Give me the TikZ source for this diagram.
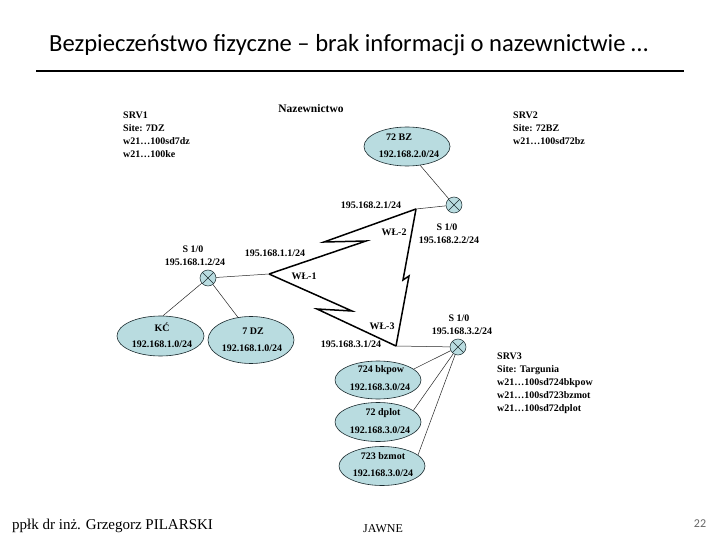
\documentclass[tikz,border=0pt]{standalone}
\usepackage{fontspec}
\setmainfont{Liberation Serif}
\newfontfamily\titlefont{Carlito}
\definecolor{lanfill}{HTML}{B9DCE0}
\definecolor{routerfill}{HTML}{B9DCE0}
\definecolor{edgedark}{HTML}{1A2A2E}
\tikzset{
  lan/.style={draw=edgedark,line width=0.6pt,fill=lanfill,ellipse,inner sep=0pt,minimum width=86pt,minimum height=39pt},
  router/.style={draw=edgedark,line width=0.5pt,fill=routerfill,circle,inner sep=0pt,minimum size=16pt,
    path picture={\draw[line width=0.5pt,edgedark] (path picture bounding box.north west)--(path picture bounding box.south east)
      (path picture bounding box.north east)--(path picture bounding box.south west);}},
  lbl/.style={inner sep=0pt,font=\fontsize{10}{12}\selectfont\bfseries},
  srvblock/.style={inner sep=0pt,anchor=north west,align=left,font=\fontsize{10}{12.8}\selectfont\bfseries},
  thinlink/.style={line width=0.5pt,black!85},
  wanlink/.style={line width=1.5pt,black,line join=miter,miter limit=10}
}
\usetikzlibrary{shapes.geometric}
\begin{document}
\begin{tikzpicture}[x=1pt,y=-1pt]
\useasboundingbox (0,0) rectangle (720,540);
\fill[white] (0,0) rectangle (720,540);
% title
\node[inner sep=0pt,anchor=west,font=\fontsize{24.6}{28}\selectfont\titlefont] (title) at (49,45) {Bezpieczeństwo fizyczne – brak informacji o nazewnictwie …};
\coordinate (ruleL) at (36,71);
\coordinate (ruleR) at (684,71);
\draw[line width=2.6pt] (ruleL) -- (ruleR);
% LANs
\node[lan] (bz) at (407,146.5) {};
\node[lan,minimum width=87pt,minimum height=40pt] (kc) at (160.5,336) {};
\node[lan,minimum height=47pt] (dz) at (251,340) {};
\node[lan,minimum height=38pt] (bkpow) at (378,380) {};
\node[lan,minimum height=39pt] (dplot) at (378,422) {};
\node[lan,minimum height=39pt] (bzmot) at (382,466) {};
% routers
\node[router] (r1) at (208,278) {};
\node[router] (r2) at (454,205) {};
\node[router] (r3) at (458,347) {};
% WAN vertices
\coordinate (w1) at (269,274);
\coordinate (w2) at (416,209);
\coordinate (w3) at (396,346);
\coordinate (z12a) at (366,241);
\coordinate (z12b) at (324,242);
\coordinate (z23a) at (403,280);
\coordinate (z23b) at (409,276);
\coordinate (z13a) at (352,311);
\coordinate (z13b) at (317,309);
\draw[wanlink] (w1) -- (z12a) -- (z12b) -- (w2);
\draw[wanlink] (w2) -- (z23a) -- (z23b) -- (w3);
\draw[wanlink] (w1) -- (z13a) -- (z13b) -- (w3);
% thin links
\draw[thinlink] (r1) -- (w1);
\draw[thinlink] (r2) -- (w2);
\draw[thinlink] (r3) -- (w3);
\draw[thinlink] (r2) -- (bz.-55);
\draw[thinlink] (r1) -- (kc.83);
\draw[thinlink] (r1) -- (dz.120);
\draw[thinlink] (r3) -- (bkpow.17);
\draw[thinlink] (r3) -- (dplot.18);
\draw[thinlink] (r3) -- (bzmot.17);
% labels
\node[lbl,font=\fontsize{11.5}{13}\selectfont\bfseries] (naz) at (311,108.5) {Nazewnictwo};
\node[srvblock] (srv1) at (123,112) {SRV1\\Site: 7DZ\\w21…100sd7dz\\w21…100ke};
\node[srvblock] (srv2) at (513,112) {SRV2\\Site: 72BZ\\w21…100sd72bz};
\node[srvblock] (srv3) at (497,353) {SRV3\\Site: Targunia\\w21…100sd724bkpow\\w21…100sd723bzmot\\w21…100sd72dplot};
\node[lbl] (t1) at (399,137) {72 BZ};
\node[lbl] (t2) at (409,154) {192.168.2.0/24};
\node[lbl] (t3) at (371,205) {195.168.2.1/24};
\node[lbl] (t4) at (394,232) {WŁ-2};
\node[lbl] (t5) at (447,227) {S 1/0};
\node[lbl] (t6) at (449,240) {195.168.2.2/24};
\node[lbl] (t7) at (193,249) {S 1/0};
\node[lbl] (t8) at (195,262) {195.168.1.2/24};
\node[lbl] (t9) at (275,253) {195.168.1.1/24};
\node[lbl] (t10) at (304,276) {WŁ-1};
\node[lbl] (t11) at (162,327) {KĆ};
\node[lbl] (t12) at (162,344) {192.168.1.0/24};
\node[lbl] (t13) at (253,331) {7 DZ};
\node[lbl] (t14) at (252,348) {192.168.1.0/24};
\node[lbl] (t15) at (351,344) {195.168.3.1/24};
\node[lbl] (t16) at (382,326) {WŁ-3};
\node[lbl] (t17) at (459,318) {S 1/0};
\node[lbl] (t18) at (462,331) {195.168.3.2/24};
\node[lbl] (t19) at (381,370) {724 bkpow};
\node[lbl] (t20) at (380,387) {192.168.3.0/24};
\node[lbl] (t21) at (383,413) {72 dplot};
\node[lbl] (t22) at (380,430) {192.168.3.0/24};
\node[lbl] (t23) at (383,456) {723 bzmot};
\node[lbl] (t24) at (383,473) {192.168.3.0/24};
% footer
\node[inner sep=0pt,anchor=west,font=\fontsize{15}{18}\selectfont] (author) at (12,526) {ppłk dr inż. Grzegorz PILARSKI};
\node[inner sep=0pt,font=\fontsize{12}{14}\selectfont] (jawne) at (383,529) {JAWNE};
\node[inner sep=0pt,font=\fontsize{12}{14}\selectfont\titlefont,text=black!60] (page) at (700,524) {22};
\end{tikzpicture}
\end{document}
